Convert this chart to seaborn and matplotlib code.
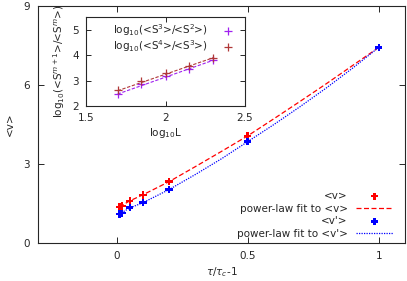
import numpy as np
import pandas as pd
import matplotlib
matplotlib.use("Agg")
import matplotlib.pyplot as plt
import seaborn as sns

# main panel data: <v> and <v'> vs tau/tau_c - 1
x_pts = [0.01, 0.02, 0.05, 0.1, 0.2, 0.5, 1.0]
v_pts = [1.37, 1.40, 1.60, 1.82, 2.33, 4.06, 7.43]
vp_pts = [1.10, 1.13, 1.34, 1.54, 2.04, 3.85, 7.43]

# fit curves
x_fit = [0.01, 0.05, 0.1, 0.2, 0.3, 0.4, 0.5, 0.6, 0.7, 0.8, 0.9, 1.0]
v_fit = [1.37, 1.60, 1.83, 2.33, 2.90, 3.48, 4.07, 4.72, 5.38, 6.05, 6.74, 7.43]
vp_fit = [1.10, 1.33, 1.53, 2.03, 2.60, 3.20, 3.85, 4.50, 5.18, 5.89, 6.64, 7.43]

# inset data
logL = [1.699, 1.845, 2.0, 2.146, 2.301]
r32 = [2.48, 2.87, 3.19, 3.44, 3.79]
r43 = [2.63, 2.97, 3.29, 3.56, 3.89]
logL_fit = [1.699, 2.301]
r32_fit = [2.47, 3.80]
r43_fit = [2.60, 3.90]

sns.set_style("ticks")
plt.rcParams['font.family'] = ['DejaVu Sans']
plt.rcParams['mathtext.fontset'] = 'dejavusans'

fs = 7.5
fig = plt.figure(figsize=(4.07, 2.81), dpi=100)
ax = fig.add_axes([0.0934, 0.1352, 0.9017, 0.8434])

df_v = pd.DataFrame({'x': x_pts, 'v': v_pts, 'vp': vp_pts})
df_f = pd.DataFrame({'x': x_fit, 'v': v_fit, 'vp': vp_fit})

sns.scatterplot(data=df_v, x='x', y='v', ax=ax, marker='P', color='red', s=28,
                edgecolor='none', label='<v>', zorder=3)
sns.lineplot(data=df_f, x='x', y='v', ax=ax, color='red', lw=0.9, dashes=(4, 2),
             label='power-law fit to <v>')
sns.scatterplot(data=df_v, x='x', y='vp', ax=ax, marker='P', color='blue', s=28,
                edgecolor='none', label="<v'>", zorder=3)
sns.lineplot(data=df_f, x='x', y='vp', ax=ax, color='blue', lw=0.9, dashes=(1, 1),
             label="power-law fit to <v'>")

ax.set_xlim(-0.3, 1.1)
ax.set_ylim(0, 9)
ax.set_xticks([0, 0.5, 1])
ax.set_xticklabels(['0', '0.5', '1'])
ax.set_yticks([0, 3, 6, 9])
ax.tick_params(direction='in', top=True, right=True, labelsize=fs, length=4, width=0.7, pad=6)
ax.set_xlabel(r'$\tau/\tau_c$-1', fontsize=fs, labelpad=3)
ax.set_ylabel('<v>', fontsize=fs, labelpad=6)
for s in ax.spines.values():
    s.set_linewidth(0.8)

ax.legend(loc='lower right', frameon=False, markerfirst=False, fontsize=fs,
          handlelength=3.5, labelspacing=0.25, borderaxespad=0.3,
          bbox_to_anchor=(0.986, -0.013))

# inset
ins = fig.add_axes([0.2113, 0.6228, 0.3907, 0.3167])
df_i = pd.DataFrame({'L': logL, 'a': r32, 'b': r43})
df_if = pd.DataFrame({'L': logL_fit, 'a': r32_fit, 'b': r43_fit})
purple = '#A020F0'
brown = '#B03838'
sns.lineplot(data=df_if, x='L', y='a', ax=ins, color=purple, lw=0.8, dashes=(3, 1.5))
sns.lineplot(data=df_if, x='L', y='b', ax=ins, color=brown, lw=0.8, dashes=(3, 1.5))
sns.scatterplot(data=df_i, x='L', y='a', ax=ins, marker='+', color=purple, s=30,
                linewidth=0.9, label=r'log$_{10}$(<S$^3$>/<S$^2$>)', zorder=3)
sns.scatterplot(data=df_i, x='L', y='b', ax=ins, marker='+', color=brown, s=30,
                linewidth=0.9, label=r'log$_{10}$(<S$^4$>/<S$^3$>)', zorder=3)
ins.set_xlim(1.5, 2.5)
ins.set_ylim(2, 5.5)
ins.set_xticks([1.5, 2, 2.5])
ins.set_xticklabels(['1.5', '2', '2.5'])
ins.set_yticks([2, 3, 4, 5])
ins.tick_params(direction='in', top=True, right=True, labelsize=fs, length=3.5, width=0.7, pad=5)
ins.set_xlabel(r'log$_{10}$L', fontsize=fs, labelpad=2)
ins.set_ylabel(r'log$_{10}$(<S$^{m+1}$>/<S$^m$>)', fontsize=fs, labelpad=4)
for s in ins.spines.values():
    s.set_linewidth(0.8)
ins.legend(loc='upper right', frameon=False, markerfirst=False, fontsize=fs,
           handlelength=1.5, labelspacing=0.0, borderaxespad=0.1, handletextpad=1.2,
           bbox_to_anchor=(0.975, 1.0))

fig.savefig('out.png', dpi=100)
